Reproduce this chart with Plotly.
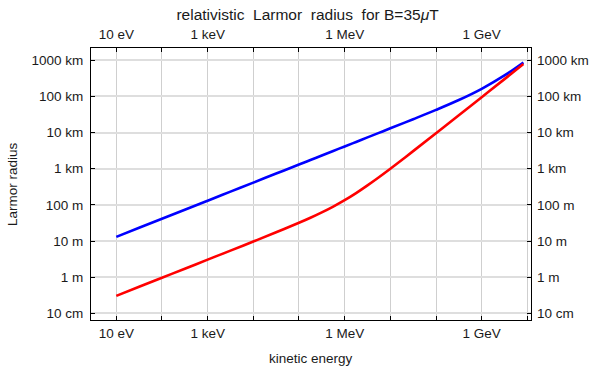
import plotly.graph_objects as go

# kinetic energy (eV)
energy_eV = [1e1, 3.16e1, 1e2, 3.16e2, 1e3, 3.16e3, 1e4, 3.16e4, 1e5, 1.78e5,
             3.16e5, 5.62e5, 1e6, 1.78e6, 3.16e6, 5.62e6, 1e7, 3.16e7, 1e8,
             3.16e8, 1e9, 3.16e9, 8.2e9]
# Larmor radius (m), blue curve
proton_m = [13.0, 23.2, 41.3, 73.4, 130, 232, 413, 734, 1305, 1740,
            2320, 3095, 4130, 5500, 7340, 9790, 13100, 23400, 42300,
            79300, 162000, 380000, 870000]
# Larmor radius (m), red curve
electron_m = [0.304, 0.541, 0.963, 1.71, 3.05, 5.42, 9.68, 17.4, 31.9, 44.0,
              62.0, 89.9, 135, 212, 346, 582, 1000, 3060, 9570,
              30200, 95300, 301000, 786000]

x_tickvals = [1e1, 1e2, 1e3, 1e4, 1e5, 1e6, 1e7, 1e8, 1e9, 1e10]
x_ticktext = ["10 eV", "", "1 keV", "", "", "1 MeV", "", "", "1 GeV", ""]
y_tickvals = [0.1, 1, 10, 100, 1e3, 1e4, 1e5, 1e6]
y_ticktext = ["10 cm", "1 m", "10 m", "100 m", "1 km", "10 km", "100 km", "1000 km"]

FONT = "Liberation Sans, Arial, sans-serif"
TXT = "#1a1a1a"
TS = 13.5

fig = go.Figure()
fig.add_trace(go.Scatter(x=energy_eV, y=proton_m, mode="lines",
                         line=dict(color="#0000ff", width=2.6, shape="spline"),
                         hoverinfo="skip"))
fig.add_trace(go.Scatter(x=energy_eV, y=electron_m, mode="lines",
                         line=dict(color="#ff0000", width=2.6, shape="spline"),
                         hoverinfo="skip"))
# helper trace so the top/right axes render
fig.add_trace(go.Scatter(x=[energy_eV[0]], y=[proton_m[0]], mode="markers",
                         marker=dict(opacity=0), xaxis="x2", yaxis="y2",
                         hoverinfo="skip"))

xr = [0.446, 10.08]
yr = [-1.185, 6.339]
common_x = dict(type="log", range=xr, tickmode="array", tickvals=x_tickvals,
                ticktext=x_ticktext, ticks="inside", ticklen=4, tickwidth=1,
                tickcolor="#000", tickfont=dict(size=TS, color=TXT, family=FONT),
                zeroline=False, automargin=False)
common_y = dict(type="log", range=yr, tickmode="array", tickvals=y_tickvals,
                ticktext=y_ticktext, ticks="inside", ticklen=4, tickwidth=1,
                tickcolor="#000", tickfont=dict(size=TS, color=TXT, family=FONT),
                zeroline=False, automargin=False)

fig.update_layout(
    width=590, height=368,
    margin=dict(l=91, r=59, t=48, b=48),
    paper_bgcolor="white", plot_bgcolor="white",
    showlegend=False,
    font=dict(family=FONT, color=TXT, size=TS),
    title=dict(text="relativistic\u00a0 Larmor\u00a0 radius\u00a0 for B=35<i>μ</i>T",
               x=307.5 / 590, xanchor="center", y=1 - 15 / 368, yanchor="middle",
               font=dict(size=15.5, family=FONT, color=TXT), automargin=False),
    xaxis=dict(**common_x, showline=True, linecolor="#000", linewidth=1,
               mirror=True, showgrid=True, gridcolor="#cfcfcf", gridwidth=1,
               ticklabelstandoff=1),
    xaxis2=dict(**common_x, overlaying="x", side="top", anchor="y2",
                showgrid=False, showline=False, ticklabelstandoff=5),
    yaxis=dict(**common_y, showline=True, linecolor="#000", linewidth=1,
               mirror=True, showgrid=True, gridcolor="#dedede", gridwidth=1.6,
               ticklabelstandoff=4),
    yaxis2=dict(**common_y, overlaying="y", side="right", anchor="x2",
                showgrid=False, showline=False, ticklabelstandoff=5),
    annotations=[
        dict(text="kinetic energy", xref="paper", yref="paper",
             x=0.5, y=-(358 - 319.5) / 271.5, xanchor="center", yanchor="middle",
             showarrow=False, font=dict(size=TS, family=FONT, color=TXT)),
        dict(text="Larmor radius", xref="paper", yref="paper",
             x=-(91 - 12) / 440, y=0.5, xanchor="center", yanchor="middle",
             textangle=-90, showarrow=False,
             font=dict(size=TS, family=FONT, color=TXT)),
    ],
)

fig.write_html("out.html")
